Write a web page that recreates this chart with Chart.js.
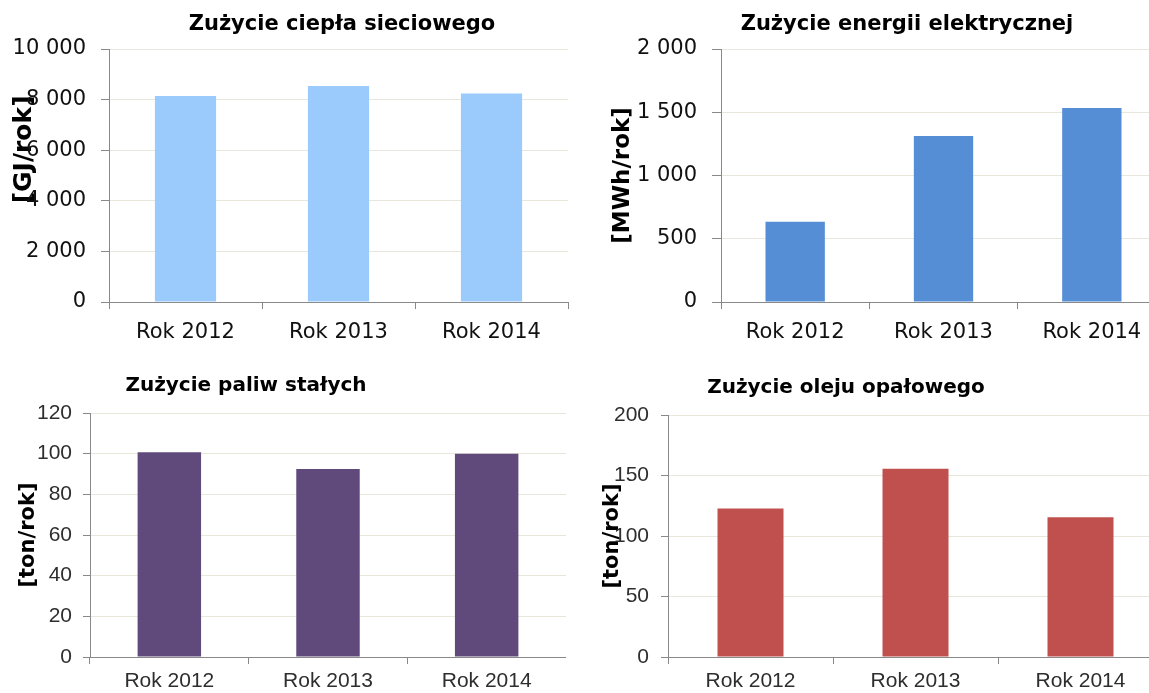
<!DOCTYPE html>
<html lang="pl">
<head>
<meta charset="utf-8">
<title>Zużycie mediów</title>
<script src="https://cdn.jsdelivr.net/npm/chart.js@4.4.1/dist/chart.umd.min.js"></script>
<style>
  html, body { margin: 0; padding: 0; background: #fff; overflow: hidden; }
  #page { position: relative; width: 1149px; height: 693px; overflow: hidden; }
  canvas { position: absolute; }
</style>
</head>
<body>
<div id="page">
  <canvas id="heatChart"></canvas>
  <canvas id="powerChart"></canvas>
  <canvas id="fuelChart"></canvas>
  <canvas id="oilChart"></canvas>
</div>
<script>
// dane
const years = ['Rok 2012', 'Rok 2013', 'Rok 2014'];

const heatGJ = [8140, 8540, 8240];
const powerMWh = [634, 1313, 1534];
const solidFuelTon = [100.7, 92.5, 99.9];
const oilTon = [122.8, 155.5, 115.4];

const heatTicks = [0, 2000, 4000, 6000, 8000, 10000];
const powerTicks = [0, 500, 1000, 1500, 2000];
const fuelTicks = [0, 20, 40, 60, 80, 100, 120];
const oilTicks = [0, 50, 100, 150, 200];

const grey = '#898989';
const beige = '#E9E6DB';

// 10000 -> "10 000"
function spaced(v) {
  return String(v).replace(/\B(?=(\d{3})+(?!\d))/g, ' ');
}

function makeChart(id, cfg) {
  const el = document.getElementById(id);
  el.style.left = cfg.left + 'px';
  el.style.top = cfg.top + 'px';
  el.width = cfg.width;
  el.height = cfg.height;

  const scales = {
    x: {
      offset: true,
      grid: {
        offset: true, drawOnChartArea: false, drawTicks: true,
        tickLength: 7, color: grey, tickColor: grey
      },
      border: { display: true, color: grey },
      ticks: {
        color: cfg.tickColor, font: cfg.tickFont, padding: cfg.xPad,
        maxRotation: 0, autoSkip: false
      },
      afterFit: s => { s.height = cfg.xHeight; }
    },
    y: {
      min: cfg.ticks[0],
      max: cfg.ticks[cfg.ticks.length - 1],
      ticks: {
        stepSize: cfg.ticks[1] - cfg.ticks[0],
        color: cfg.tickColor, font: cfg.tickFont, padding: cfg.yPad,
        callback: spaced
      },
      grid: { color: beige, tickColor: grey, tickLength: cfg.yTick },
      border: { display: true, color: grey },
      title: {
        display: true, text: cfg.unit, color: '#000',
        font: cfg.unitFont, padding: { top: cfg.unitPad, bottom: 0 }
      },
      afterFit: s => { s.width = cfg.yWidth; }
    }
  };
  // pusta oś po prawej, żeby tytuł był wyśrodkowany jak w oryginale
  if (cfg.extra) {
    scales.pad = {
      type: 'linear', position: 'right', display: true,
      grid: { display: false }, border: { display: false },
      ticks: { display: false },
      afterFit: s => { s.width = cfg.extra; }
    };
  }

  return new Chart(el, {
    type: 'bar',
    data: {
      labels: years,
      datasets: [{
        data: cfg.values,
        backgroundColor: cfg.color,
        borderWidth: 0,
        barPercentage: 0.4,
        categoryPercentage: 1
      }]
    },
    options: {
      responsive: false,
      animation: false,
      layout: { padding: 0 },
      plugins: {
        legend: { display: false },
        tooltip: { enabled: false },
        title: {
          display: true, text: cfg.title, color: '#000',
          font: cfg.titleFont, padding: cfg.titlePad
        }
      },
      scales: scales
    }
  });
}

const topTick = { family: 'DejaVu Sans', size: 21 };
const topTitle = { family: 'DejaVu Sans', size: 21, weight: 'bold' };
const lowTick = { family: 'Liberation Sans', size: 21 };
const lowTitle = { family: 'DejaVu Sans', size: 20, weight: 'bold' };
const lowUnit = { family: 'DejaVu Sans', size: 21, weight: 'bold' };

makeChart('heatChart', {
  left: 0, top: 0, width: 684, height: 350, yWidth: 109, extra: 116, xHeight: 48,
  values: heatGJ, ticks: heatTicks, color: '#9BCBFD',
  title: 'Zużycie ciepła sieciowego', titleFont: topTitle, titlePad: { top: 12.4, bottom: 11.4 },
  // tytuł osi w oryginale jest przesunięty w górę, stąd spacje na początku
  unit: '      [GJ/rok]', unitFont: { family: 'DejaVu Sans', size: 25, weight: 'bold' }, unitPad: 9.5,
  tickColor: '#111', tickFont: topTick, xPad: 11, yPad: 15, yTick: 8
});

makeChart('powerChart', {
  left: 590, top: 0, width: 634, height: 350, yWidth: 131, extra: 58, xHeight: 48,
  values: powerMWh, ticks: powerTicks, color: '#558ED5',
  title: 'Zużycie energii elektrycznej', titleFont: topTitle, titlePad: { top: 12.4, bottom: 11.4 },
  unit: '[MWh/rok]', unitFont: { family: 'DejaVu Sans', size: 23, weight: 'bold' }, unitPad: 19.2,
  tickColor: '#111', tickFont: topTick, xPad: 11, yPad: 15, yTick: 9
});

makeChart('fuelChart', {
  left: -74, top: 360, width: 640, height: 337, yWidth: 164, extra: 0, xHeight: 40,
  values: solidFuelTon, ticks: fuelTicks, color: '#604A7B',
  title: 'Zużycie paliw stałych', titleFont: lowTitle, titlePad: { top: 14, bottom: 15 },
  unit: '[ton/rok]', unitFont: lowUnit, unitPad: 90.4,
  tickColor: '#2e2e2e', tickFont: lowTick, xPad: 5, yPad: 11, yTick: 7
});

makeChart('oilChart', {
  left: 529, top: 360, width: 634, height: 337, yWidth: 139, extra: 0, xHeight: 40,
  values: oilTon, ticks: oilTicks, color: '#C0504D',
  title: 'Zużycie oleju opałowego', titleFont: lowTitle, titlePad: { top: 16, bottom: 15 },
  unit: '[ton/rok]', unitFont: lowUnit, unitPad: 71.4,
  tickColor: '#2e2e2e', tickFont: lowTick, xPad: 5, yPad: 12, yTick: 7
});
</script>
</body>
</html>
